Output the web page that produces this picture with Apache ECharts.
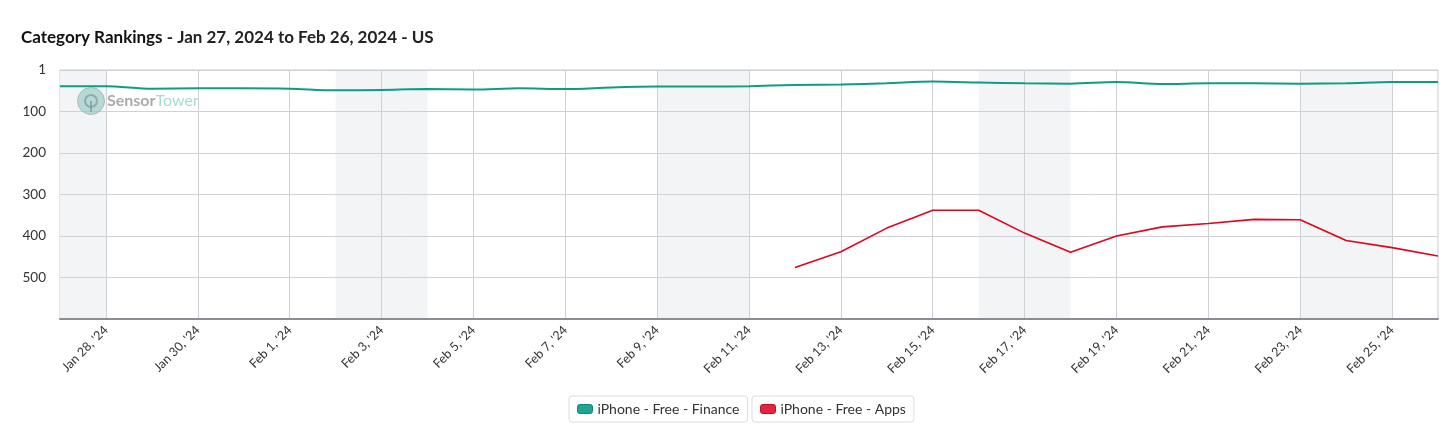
<!DOCTYPE html>
<html>
<head>
<meta charset="utf-8">
<script src="https://cdn.jsdelivr.net/npm/echarts@6/dist/echarts.min.js"></script>
<style>
html,body{margin:0;padding:0;background:#fff;}
#main{width:1456px;height:428px;}
</style>
</head>
<body>
<div id="main"></div>
<script>
// ---- data ----
const categories = ["Jan 27, '24","Jan 28, '24","Jan 29, '24","Jan 30, '24","Jan 31, '24","Feb 1, '24","Feb 2, '24","Feb 3, '24","Feb 4, '24","Feb 5, '24","Feb 6, '24","Feb 7, '24","Feb 8, '24","Feb 9, '24","Feb 10, '24","Feb 11, '24","Feb 12, '24","Feb 13, '24","Feb 14, '24","Feb 15, '24","Feb 16, '24","Feb 17, '24","Feb 18, '24","Feb 19, '24","Feb 20, '24","Feb 21, '24","Feb 22, '24","Feb 23, '24","Feb 24, '24","Feb 25, '24","Feb 26, '24"];
const seriesNames = ["iPhone - Free - Finance", "iPhone - Free - Apps"];
const financeRank = [39,39,45,44,44,45,49,48,46,47,44,46,42,40,40,39,36,35,32,28,30,32,33,29,34,32,32,33,32,29,29];
const appsRank = [null,null,null,null,null,null,null,null,null,null,null,null,null,null,null,null,476,438,381,338,338,393,439,400,378,370,360,361,411,428,448];
const weekendBands = [["Jan 27, '24","Jan 28, '24"],["Feb 2, '24","Feb 4, '24"],["Feb 9, '24","Feb 11, '24"],["Feb 16, '24","Feb 18, '24"],["Feb 23, '24","Feb 25, '24"]];

const FONT = "Lato";
const chart = echarts.init(document.getElementById('main'), null, {renderer:'canvas'});
const everyOther = (idx) => idx % 2 === 1;

chart.setOption({
  animation:false,
  backgroundColor:'#fff',
  textStyle:{fontFamily:FONT},
  title:{
    left:16, top:24,
    text:'{b|Category Rankings}{n| - Jan 27, 2024 to Feb 26, 2024 - US}',
    textStyle:{
      rich:{
        b:{fontFamily:FONT,fontSize:17,fontWeight:'bold',color:'#111'},
        n:{fontFamily:FONT,fontSize:17,color:'#222'}
      }
    }
  },
  grid:{left:60,right:18,top:70,bottom:109,show:true,borderColor:'#c8cbd2',borderWidth:1,backgroundColor:'transparent'},
  legend:[
    {left:569,top:396,padding:[6,8,6,8],borderColor:'#dcdde0',borderWidth:1,borderRadius:3,
     itemWidth:15,itemHeight:9,itemGap:10,
     textStyle:{fontFamily:FONT,fontSize:14,color:'#333'},
     data:[{name:seriesNames[0],icon:'roundRect',itemStyle:{color:'#1fa595',borderColor:'#138474',borderWidth:1}}]},
    {left:752,top:396,padding:[6,8,6,8],borderColor:'#dcdde0',borderWidth:1,borderRadius:3,
     itemWidth:15,itemHeight:9,itemGap:10,
     textStyle:{fontFamily:FONT,fontSize:14,color:'#333'},
     data:[{name:seriesNames[1],icon:'roundRect',itemStyle:{color:'#e4253d',borderColor:'#b8102a',borderWidth:1}}]}
  ],
  xAxis:{
    type:'category',data:categories,boundaryGap:false,z:2,
    axisLine:{onZero:false,lineStyle:{color:'#8a8d94',width:2}},
    axisTick:{show:false},
    axisLabel:{interval:everyOther,rotate:45,margin:9,fontFamily:FONT,fontSize:12.5,color:'#333'},
    splitLine:{show:true,interval:everyOther,lineStyle:{color:'#cfd1d5',width:1}}
  },
  yAxis:{
    type:'value',inverse:true,min:0,max:600,interval:100,z:2,
    axisLine:{show:false},axisTick:{show:false},
    axisLabel:{margin:14,fontFamily:FONT,fontSize:13.5,color:'#333',
      formatter:(v)=> v===0 ? '1' : (v===600 ? '' : String(v))},
    splitLine:{show:true,lineStyle:{color:'#cfd1d5',width:1}}
  },
  graphic:{elements:[
    {type:'circle',z:100,silent:true,shape:{cx:91,cy:101,r:13.5},style:{fill:'rgba(140,200,192,0.6)',stroke:'rgba(150,160,165,0.6)',lineWidth:1}},
    {type:'circle',z:101,silent:true,shape:{cx:91,cy:101,r:6},style:{fill:'rgba(0,0,0,0)',stroke:'rgba(140,150,155,0.75)',lineWidth:2}},
    {type:'rect',z:102,silent:true,shape:{x:90,y:101,width:2,height:11},style:{fill:'rgba(140,150,155,0.75)'}},
    {type:'text',z:100,silent:true,x:107,y:101,style:{text:'{a|Sensor}{b|Tower}',verticalAlign:'middle',
      rich:{a:{fontFamily:FONT,fontSize:16,fontWeight:'bold',fill:'#a9abad',color:'#a9abad'},
            b:{fontFamily:FONT,fontSize:16,fill:'#a6dcd4',color:'#a6dcd4'}}}}
  ]},
  series:[
    {name:'bands',type:'line',data:[],z:-1,silent:true,
     markArea:{silent:true,itemStyle:{color:'#f3f4f6'},
       data:weekendBands.map(b=>[{xAxis:b[0]},{xAxis:b[1]}])}},
    {name:seriesNames[0],type:'line',data:financeRank,showSymbol:false,smooth:0.3,
     color:'#0f9c87',lineStyle:{color:'#0f9c87',width:2},z:3},
    {name:seriesNames[1],type:'line',data:appsRank,showSymbol:false,connectNulls:false,
     color:'#e0041c',lineStyle:{color:'#e0041c',width:1.6},z:3}
  ]
});
</script>
</body>
</html>
